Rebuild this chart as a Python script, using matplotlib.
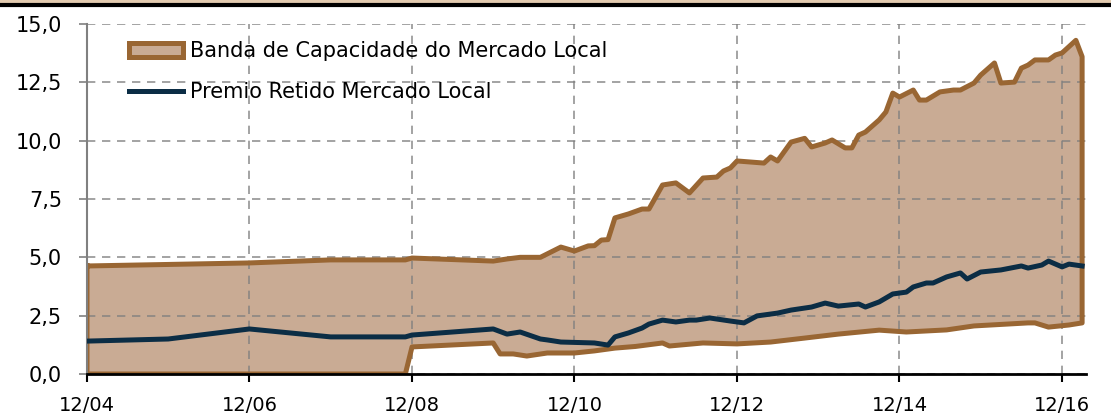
import matplotlib
matplotlib.use('Agg')
import matplotlib.pyplot as plt
import matplotlib.dates as mdates
from matplotlib.patches import Patch
from matplotlib.lines import Line2D
import pandas as pd

# Upper edge of the band
upper_dates = ['2004-12', '2006-12', '2007-12', '2008-11', '2008-12', '2009-12', '2010-02', '2010-04',
               '2010-07', '2010-10', '2010-12', '2011-02', '2011-03', '2011-04', '2011-05', '2011-06',
               '2011-08', '2011-10', '2011-11', '2012-01', '2012-03', '2012-05', '2012-07', '2012-09',
               '2012-10', '2012-11', '2012-12', '2013-04', '2013-05', '2013-06', '2013-08', '2013-10',
               '2013-11', '2014-01', '2014-02', '2014-04', '2014-05', '2014-06', '2014-07', '2014-09',
               '2014-10', '2014-11', '2014-12', '2015-02', '2015-03', '2015-04', '2015-06', '2015-08',
               '2015-09', '2015-11', '2015-12', '2016-02', '2016-03', '2016-05', '2016-06', '2016-07',
               '2016-08', '2016-10', '2016-11', '2016-12', '2017-02', '2017-03']
upper_vals = [4.63, 4.76, 4.89, 4.89, 4.97, 4.84, 4.93, 5.0,
              5.0, 5.44, 5.27, 5.49, 5.5, 5.74, 5.76, 6.69,
              6.86, 7.07, 7.07, 8.1, 8.19, 7.76, 8.4, 8.44,
              8.7, 8.83, 9.13, 9.04, 9.3, 9.13, 9.94, 10.1,
              9.73, 9.9, 10.03, 9.69, 9.69, 10.24, 10.37, 10.89,
              11.23, 12.04, 11.87, 12.17, 11.74, 11.74, 12.09, 12.17,
              12.17, 12.47, 12.81, 13.33, 12.47, 12.51, 13.11, 13.24,
              13.46, 13.46, 13.67, 13.76, 14.3, 13.6]

# Lower edge of the band
lower_dates = ['2004-12', '2008-11', '2008-12', '2009-12', '2010-01', '2010-03', '2010-05', '2010-08',
               '2010-12', '2011-03', '2011-06', '2011-09', '2012-01', '2012-02', '2012-07', '2012-12',
               '2013-05', '2013-10', '2014-03', '2014-09', '2015-01', '2015-07', '2015-11', '2016-07',
               '2016-08', '2016-10', '2017-01', '2017-03']
lower_vals = [0.0, 0.0, 1.16, 1.33, 0.86, 0.86, 0.77, 0.9,
              0.9, 0.99, 1.11, 1.18, 1.33, 1.2, 1.33, 1.29,
              1.37, 1.54, 1.71, 1.88, 1.8, 1.89, 2.06, 2.19,
              2.19, 2.01, 2.1, 2.19]

# Premio retido
premio_dates = ['2004-12', '2005-12', '2006-12', '2007-12', '2008-11', '2008-12', '2009-12', '2010-02',
                '2010-04', '2010-07', '2010-08', '2010-10', '2011-03', '2011-05', '2011-06', '2011-08',
                '2011-10', '2011-11', '2012-01', '2012-03', '2012-05', '2012-06', '2012-08', '2012-11',
                '2013-01', '2013-03', '2013-06', '2013-08', '2013-11', '2014-01', '2014-03', '2014-06',
                '2014-07', '2014-09', '2014-11', '2015-01', '2015-02', '2015-04', '2015-05', '2015-07',
                '2015-09', '2015-10', '2015-12', '2016-03', '2016-06', '2016-07', '2016-09', '2016-10',
                '2016-12', '2017-01', '2017-03']
premio_vals = [1.41, 1.5, 1.93, 1.59, 1.59, 1.67, 1.93, 1.71,
               1.8, 1.5, 1.46, 1.37, 1.33, 1.24, 1.59, 1.76,
               1.97, 2.14, 2.31, 2.23, 2.31, 2.31, 2.4, 2.27,
               2.19, 2.49, 2.61, 2.74, 2.87, 3.04, 2.91, 3.0,
               2.87, 3.09, 3.43, 3.51, 3.73, 3.9, 3.9, 4.16,
               4.33, 4.07, 4.37, 4.46, 4.63, 4.54, 4.67, 4.84,
               4.59, 4.71, 4.63]

xtick_dates = ['2004-12', '2006-12', '2008-12', '2010-12', '2012-12', '2014-12', '2016-12']
ytick_vals = [0, 2.5, 5, 7.5, 10, 12.5, 15]
ytick_labels = ['0,0', '2,5', '5,0', '7,5', '10,0', '12,5', '15,0']

color_band_edge = '#996633'
color_band_fill = '#C9AB94'
color_premio = '#0B2D45'

upper_x = pd.to_datetime(upper_dates)
lower_x = pd.to_datetime(lower_dates)
premio_x = pd.to_datetime(premio_dates)

# Polygon of the band: upper edge forward, lower edge back
poly_x = list(upper_x) + list(lower_x[::-1]) + [upper_x[0]]
poly_y = list(upper_vals) + list(lower_vals[::-1]) + [upper_vals[0]]

plt.rcParams['font.family'] = 'DejaVu Sans'

fig = plt.figure(figsize=(11.11, 4.19), dpi=100)
ax = fig.add_axes([0.0783, 0.1074, 0.8995, 0.8353])

ax.fill(poly_x, poly_y, facecolor=color_band_fill, edgecolor='none', zorder=1)
ax.plot(poly_x, poly_y, color=color_band_edge, linewidth=3.6, solid_joinstyle='round', zorder=2)
ax.plot(premio_x, premio_vals, color=color_premio, linewidth=3.6, solid_joinstyle='round', zorder=3)

ax.set_xlim(pd.Timestamp('2004-12-01'), pd.Timestamp('2017-03-20'))
ax.set_ylim(0, 15)

ax.set_xticks(pd.to_datetime(xtick_dates))
ax.xaxis.set_major_formatter(mdates.DateFormatter('%m/%y'))
ax.set_yticks(ytick_vals)
ax.set_yticklabels(ytick_labels)

ax.tick_params(axis='x', labelsize=14, length=6, width=1.5, color='black', pad=10)
ax.tick_params(axis='y', labelsize=15, length=6, width=1.2, color='#808080', pad=12)

ax.set_axisbelow('line')
ax.grid(color='#808080', linestyle=(0, (5, 4)), linewidth=1.2, alpha=0.85)

for s in ['top', 'right']:
    ax.spines[s].set_visible(False)
ax.spines['left'].set_color('#808080')
ax.spines['left'].set_linewidth(1.5)
ax.spines['bottom'].set_color('black')
ax.spines['bottom'].set_linewidth(2)
ax.spines['bottom'].set_zorder(4)

# Legend
handles = [Patch(facecolor=color_band_fill, edgecolor=color_band_edge, linewidth=3.6),
           Line2D([0], [0], color=color_premio, linewidth=3.6)]
labels = ['Banda de Capacidade do Mercado Local', 'Premio Retido Mercado Local']
ax.legend(handles, labels, loc='upper left', bbox_to_anchor=(0.034, 0.975), frameon=False,
          fontsize=15, handlelength=2.6, handletextpad=0.3, labelspacing=1.0, borderaxespad=0)

# Header strip at the top of the figure
fig.add_artist(plt.Rectangle((0, 1 - 4 / 419), 1, 4 / 419, transform=fig.transFigure,
                             facecolor='#E3CBB0', edgecolor='none'))
fig.add_artist(Line2D([0, 1], [1 - 5.5 / 419, 1 - 5.5 / 419], transform=fig.transFigure,
                      color='black', linewidth=3))

fig.savefig('out.png', dpi=100)
